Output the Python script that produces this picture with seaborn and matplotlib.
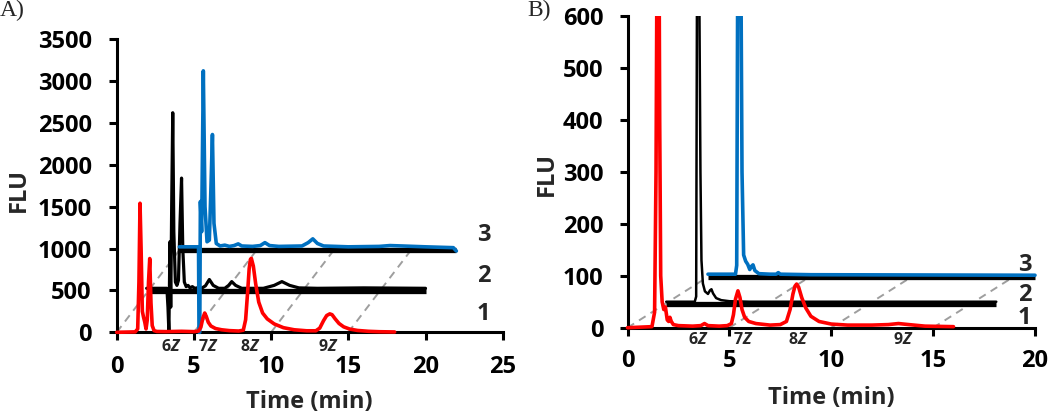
import matplotlib
matplotlib.use("Agg")
import matplotlib.pyplot as plt
import matplotlib.transforms as mtransforms
from matplotlib.patches import Rectangle
import pandas as pd
import seaborn as sns


# ---- panel A: red = trace 1, black = trace 2 (offset), blue = trace 3 (offset)
A_RED_T = [0, 1.2, 1.36, 1.44, 1.51, 1.58, 1.66, 1.74, 1.82, 1.9, 1.98, 2.06, 2.14, 2.22, 2.3,
           2.42, 2.6, 3.2, 4.2, 5.0, 5.3, 5.45, 5.58, 5.7, 5.8, 5.93, 6.1, 6.4, 6.8, 7.3, 7.9,
           8.2, 8.35, 8.48, 8.58, 8.66, 8.72, 8.85, 9.0, 9.2, 9.45, 9.75, 10.2, 10.8, 11.5,
           12.3, 12.9, 13.15, 13.4, 13.6, 13.8, 13.95, 14.15, 14.4, 14.7, 15.1, 15.6, 16.3,
           17.0, 18.0]
A_RED_Y = [0, 5, 40, 600, 1540, 1000, 250, 180, 120, 40, 150, 600, 880, 350, 80,
           20, 10, 8, 12, 8, 15, 60, 170, 230, 190, 120, 75, 45, 30, 20, 15,
           25, 150, 480, 760, 870, 883, 790, 580, 360, 230, 160, 100, 55, 30,
           18, 18, 50, 140, 200, 220, 210, 160, 105, 65, 38, 22, 12, 7, 4]

A_BLACK_T = [1.94, 3.25, 3.32, 3.38, 3.45, 3.5, 3.56, 3.63, 3.7, 3.8, 3.9, 4.0, 4.1, 4.2, 4.28,
             4.38, 4.5, 4.62, 4.75, 4.9, 5.05, 5.2, 5.45, 5.75, 6.0, 6.25, 6.6, 7.0, 7.25,
             7.45, 7.7, 8.1, 9.5, 10.2, 10.7, 11.2, 11.8, 13.0, 16.0, 20.0]
A_BLACK_Y = [525, 525, 300, 0, 1080, 300, 1500, 2620, 1200, 600, 560, 620, 1300, 1840, 1000,
             600, 545, 560, 530, 545, 525, 530, 520, 555, 630, 560, 525, 525, 560,
             605, 560, 525, 525, 560, 605, 560, 530, 525, 530, 525]

A_BLUE_T = [4.06, 5.3, 5.33, 5.38, 5.42, 5.5, 5.61, 5.72, 5.85, 6.0, 6.1, 6.2, 6.3, 6.45, 6.7,
            7.0, 7.3, 7.6, 7.87, 8.1, 8.8, 9.3, 9.6, 9.9, 10.5, 12.0, 12.4, 12.7, 13.0, 13.4,
            15.0, 17.0, 17.7, 18.5, 20.0, 21.8, 22.0]
A_BLUE_Y = [1020, 1020, 0, 0, 1560, 1200, 3120, 1500, 1080, 1100, 1700, 2360, 1300, 1060, 1030,
            1040, 1025, 1035, 1055, 1030, 1025, 1035, 1070, 1035, 1025, 1030, 1070, 1115, 1060,
            1030, 1020, 1025, 1035, 1030, 1020, 1010, 970]

A_AXIS2 = ([1.94, 20.0], [495, 495])
A_AXIS3 = ([4.06, 22.0], [980, 980])
A_SHIFT = (4.06, 980)
A_LABELS = [("1", 220), ("2", 670), ("3", 1160)]
A_ZLABELS = [("6", 3.56), ("7", 5.94), ("8", 8.64), ("9", 13.71)]

# ---- panel B
B_RED_T = [0, 1.2, 1.33, 1.4, 1.47, 1.53, 1.58, 1.63, 1.7, 1.78, 1.86, 1.95, 2.02, 2.08, 2.15,
           2.25, 2.5, 3.2, 3.6, 3.78, 3.95, 4.5, 4.9, 5.1, 5.2, 5.3, 5.42, 5.52, 5.62, 5.75,
           5.95, 6.3, 7.0, 7.5, 7.8, 7.98, 8.12, 8.22, 8.3, 8.4, 8.55, 8.75, 9.0, 9.4, 10.0,
           10.8, 12.0, 12.8, 13.3, 13.8, 14.6, 16.0]
B_RED_Y = [0, 2, 30, 300, 900, 900, 400, 100, 50, 35, 40, 15, 12, 20, 12,
           6, 4, 3, 4, 8, 4, 3, 4, 8, 25, 55, 71, 58, 35, 20,
           12, 8, 5, 6, 12, 35, 65, 80, 84, 78, 58, 38, 22, 12, 7,
           5, 5, 6, 8, 6, 3, 2]

B_BLACK_T = [1.9, 3.3, 3.37, 3.42, 3.5, 3.58, 3.63, 3.7, 3.8, 3.95, 4.05, 4.12, 4.2, 4.35, 4.6,
             5.0, 6.0, 18.1]
B_BLACK_Y = [50, 50, 60, 800, 800, 300, 130, 85, 70, 65, 72, 74, 66, 57, 53, 51, 50, 50]

B_BLUE_T = [3.95, 5.3, 5.36, 5.42, 5.55, 5.62, 5.7, 5.8, 5.9, 6.0, 6.08, 6.16, 6.25, 6.45, 7.0,
            7.3, 7.4, 7.5, 9.0, 20.0]
B_BLUE_Y = [103, 103, 120, 800, 800, 300, 140, 128, 122, 112, 118, 121, 110, 104, 103,
            103, 106, 103, 102, 101]

B_AXIS2 = ([1.9, 18.1], [46, 46])
B_AXIS3 = ([3.95, 20.0], [98, 98])
B_SHIFT = (3.95, 98)
B_LABELS = [("1", 18), ("2", 63), ("3", 121)]
B_ZLABELS = [("6", 3.46), ("7", 5.7), ("8", 8.37), ("9", 13.53)]

DASH_STARTS = [0, 5, 10, 15]

RED = "#FF0000"
BLUE = "#0070C0"
BLACK = "#000000"
GREY = "#9E9E9E"
FONT = "Open Sans"
FS = 17

sns.set_theme(style="white")
plt.rcParams["font.family"] = [FONT, "DejaVu Sans"]
plt.rcParams["mathtext.fontset"] = "custom"
plt.rcParams["mathtext.it"] = FONT + ":italic:bold"


def trace_df(t, y):
    return pd.DataFrame({"time": t, "flu": y})


def draw_panel(ax, traces, axis2, axis3, shift, xmax, ymax, ystep, labels, label_x,
               zlabels, zlab_y, xpad, ypad, clip=None):
    # pseudo-3D dashed guides
    for x0 in DASH_STARTS:
        ax.plot([x0, x0 + shift[0]], [0, shift[1]], color=GREY, lw=1.4,
                linestyle=(0, (4, 3)), zorder=1, clip_on=False)
    # offset baselines
    for seg in (axis2, axis3):
        ax.plot(seg[0], seg[1], color=BLACK, lw=3.8, solid_capstyle="butt", zorder=2,
                clip_on=False)

    for t, y, color, lw, z in traces:
        n_before = len(ax.lines)
        sns.lineplot(data=trace_df(t, y), x="time", y="flu", ax=ax, color=color,
                     linewidth=lw, sort=False, estimator=None, zorder=z)
        for line in ax.lines[n_before:]:
            if clip is None:
                line.set_clip_on(False)
            else:
                line.set_clip_path(Rectangle((-0.03, -0.06), 1.06, 1.06,
                                             transform=ax.transAxes))

    ax.set_xlim(0, xmax)
    ax.set_ylim(0, ymax)
    ax.set_xticks(range(0, xmax + 1, 5))
    ax.set_yticks(range(0, ymax + 1, ystep))
    for lab in ax.get_xticklabels() + ax.get_yticklabels():
        lab.set_fontweight("bold")
    ax.tick_params(axis="both", direction="out", length=6, width=2.2, colors=BLACK,
                   labelsize=FS, bottom=True, left=True)
    ax.tick_params(axis="x", pad=xpad)
    ax.tick_params(axis="y", pad=ypad)
    sns.despine(ax=ax)
    for side in ("left", "bottom"):
        ax.spines[side].set_linewidth(2.2)
        ax.spines[side].set_color(BLACK)
        ax.spines[side].set_zorder(2.5)

    for txt, yv in labels:
        ax.text(label_x, yv, txt, fontsize=FS, fontweight="bold", ha="center",
                va="center", clip_on=False)

    trans = mtransforms.blended_transform_factory(ax.transData, ax.transAxes)
    for num, xv in zlabels:
        ax.text(xv, zlab_y, num + r"$\mathit{Z}$", transform=trans, fontsize=11.5,
                fontweight="bold", ha="center", va="center")


fig = plt.figure(figsize=(10.5, 4.18), dpi=100)
axA = fig.add_axes([116.7 / 1050, (418 - 332.3) / 418, 386 / 1050, 293.3 / 418])
axB = fig.add_axes([627.5 / 1050, (418 - 327.7) / 418, 407.5 / 1050, 311.7 / 418])

draw_panel(
    axA,
    [(A_BLACK_T, A_BLACK_Y, BLACK, 2.3, 3),
     (A_BLUE_T, A_BLUE_Y, BLUE, 2.6, 4),
     (A_RED_T, A_RED_Y, RED, 2.6, 5)],
    A_AXIS2, A_AXIS3, A_SHIFT, 25, 3500, 500, A_LABELS, 23.75,
    A_ZLABELS, -0.049, xpad=10.5, ypad=12,
)
draw_panel(
    axB,
    [(B_BLACK_T, B_BLACK_Y, BLACK, 1.8, 3),
     (B_BLUE_T, B_BLUE_Y, BLUE, 2.6, 4),
     (B_RED_T, B_RED_Y, RED, 2.6, 5)],
    B_AXIS2, B_AXIS3, B_SHIFT, 20, 600, 100, B_LABELS, 19.5,
    B_ZLABELS, -0.0395, xpad=9, ypad=11.5, clip=True,
)

for ax, fx, fy, tx, ty in ((axA, -0.2544, 0.485, 0.5, -0.2366),
                           (axB, -0.1988, 0.4915, 0.5, -0.2266)):
    ax.set_ylabel("FLU", fontsize=FS, fontweight="bold")
    ax.set_xlabel("Time (min)", fontsize=FS, fontweight="bold")
    ax.yaxis.set_label_coords(fx, fy)
    ax.xaxis.set_label_coords(tx, ty)
    ax.yaxis.label.set_va("center")
    ax.xaxis.label.set_va("center")

fig.text(0.0, 1.0, "A)", ha="left", va="top", fontsize=17, family="Liberation Serif")
fig.text(527 / 1050, 1.0, "B)", ha="left", va="top", fontsize=17, family="Liberation Serif")

fig.savefig("out.png", dpi=100)
